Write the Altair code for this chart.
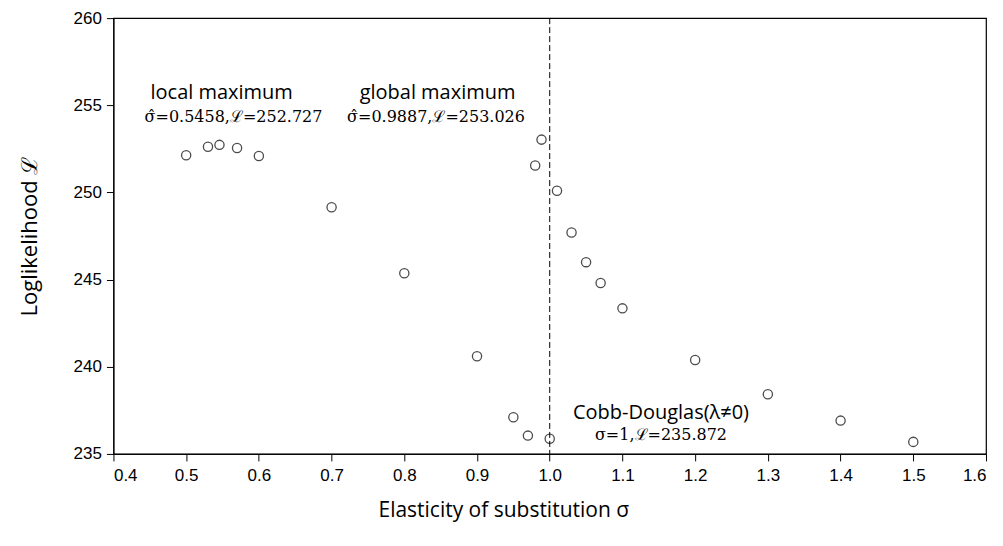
import altair as alt
import pandas as pd

# data
sigma = [0.5, 0.53, 0.5458, 0.57, 0.6, 0.7, 0.8, 0.9, 0.95, 0.97, 0.98, 0.9887,
         1.0, 1.01, 1.03, 1.05, 1.07, 1.1, 1.2, 1.3, 1.4, 1.5]
loglik = [252.13, 252.62, 252.73, 252.55, 252.09, 249.15, 245.36, 240.6, 237.1, 236.05,
          251.55, 253.03, 235.87, 250.1, 247.7, 246.0, 244.8, 243.35, 240.39, 238.42,
          236.91, 235.69]

x_ticks = [0.4, 0.5, 0.6, 0.7, 0.8, 0.9, 1.0, 1.1, 1.2, 1.3, 1.4, 1.5, 1.6]
y_ticks = [235, 240, 245, 250, 255, 260]

ref_sigma = [1.0]

# annotation texts (sans headline + serif math line)
head_text = ["local maximum", "global maximum", "Cobb-Douglas(λ≠0)"]
head_x = [0.5488, 0.8457, 1.153]
head_y = [255.72, 255.72, 237.35]
math_text = ["σ̂=0.5458,ℒ=252.727", "σ̂=0.9887,ℒ=253.026", "σ=1,ℒ=235.872"]
math_x = [0.5651, 0.8436, 1.153]
math_y = [254.3, 254.3, 236.1]

pts = pd.DataFrame({"sigma": sigma, "L": loglik})
heads = pd.DataFrame({"t": head_text, "x": head_x, "y": head_y})
maths = pd.DataFrame({"t": math_text, "x": math_x, "y": math_y})
refs = pd.DataFrame({"x": ref_sigma})

xs = alt.Scale(domain=[0.4, 1.6], nice=False, zero=False)
ys = alt.Scale(domain=[235, 260], nice=False, zero=False)

xaxis = alt.Axis(values=x_ticks, format=".1f", grid=False, tickSize=7,
                 labelFont="Liberation Sans", labelFontSize=17, labelColor="black",
                 labelPadding=7, domainColor="black", tickColor="black",
                 title="Elasticity of substitution σ", titleFont="Open Sans",
                 titleFontSize=21, titleFontWeight="normal", titleColor="black",
                 titlePadding=16, titleX=390, titleAlign="center")
yaxis = alt.Axis(values=y_ticks, grid=False, tickSize=7,
                 labelFont="Liberation Sans", labelFontSize=17, labelColor="black",
                 labelPadding=5, domainColor="black", tickColor="black",
                 title="Loglikelihood ℒ", titleFont="Open Sans",
                 titleFontSize=22, titleFontWeight="normal", titleColor="black",
                 titlePadding=32)

points = alt.Chart(pts).mark_point(shape="circle", filled=False, size=85,
                                   color="black", strokeWidth=1.3).encode(
    x=alt.X("sigma:Q", scale=xs, axis=xaxis),
    y=alt.Y("L:Q", scale=ys, axis=yaxis),
)

rule = alt.Chart(refs).mark_rule(color="black", strokeDash=[6, 3], strokeWidth=1).encode(
    x=alt.X("x:Q", scale=xs),
)

head = alt.Chart(heads).mark_text(font="Open Sans", fontSize=20, color="black",
                                  baseline="middle", align="center").encode(
    x=alt.X("x:Q", scale=xs), y=alt.Y("y:Q", scale=ys), text="t:N")

math = alt.Chart(maths).mark_text(font="DejaVu Serif", fontSize=16, color="black",
                                  baseline="middle", align="center").encode(
    x=alt.X("x:Q", scale=xs), y=alt.Y("y:Q", scale=ys), text="t:N")

chart = alt.layer(rule, points, head, math).properties(
    width=873, height=436,
    background="white",
    autosize=alt.AutoSizeParams(type="none"),
    padding={"left": 105.5, "top": 10, "right": 9, "bottom": 80},
).configure_view(stroke="black", strokeWidth=1.2)

chart.save("out.html", embed_options={"renderer": "svg", "actions": False})
